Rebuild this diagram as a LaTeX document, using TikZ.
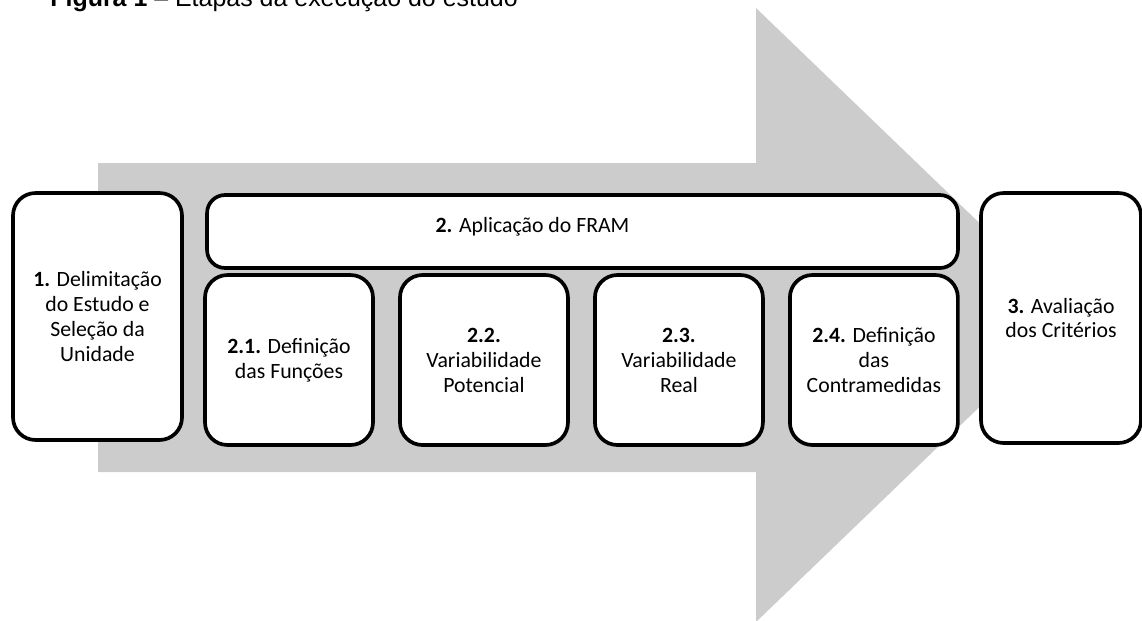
\documentclass[tikz,border=0pt]{standalone}
\usepackage{fontspec}
\setmainfont{Carlito}
\newfontfamily\titlefont{Liberation Sans}
\definecolor{arrowgray}{RGB}{204,204,204}

\begin{document}
\begin{tikzpicture}[x=0.02cm, y=-0.02cm, node distance={3.9cm}, auto=center]
                \tikzstyle{stage} = [draw, line width=2.1pt, rounded corners=0.45cm, fill=white, align=center, font=\fontsize{12.4}{14.2}\selectfont]
                \tikzstyle{sub} = [stage, minimum width=3.36cm, minimum height=3.4cm]

                \useasboundingbox (0,0) rectangle (1142,620);

                % Caption (cut off at the top)
                \node[anchor=base west, inner sep=0pt, font=\titlefont\fontsize{14.2}{17}\selectfont] (title) at (50,6) {\textbf{Figura 1} – Etapas da execução do estudo};

                % Big gray arrow behind the stages
                \fill[arrowgray] (98,163) -- (756,163) -- (756,8) -- (1075,315) -- (756,622) -- (756,472) -- (98,472) -- cycle;

                % Outer stages
                \node[stage, minimum width=3.38cm, minimum height=4.94cm] (s1) at (97.5,316.5) {\textbf{1.} Delimitação\\do Estudo e\\Seleção da\\Unidade};
                \node[stage, minimum width=3.2cm, minimum height=5cm] (s3) at (1061,318) {\textbf{3.} Avaliação\\dos Critérios};

                % FRAM stage and its steps
                \node[stage, rounded corners=0.36cm, minimum width=15.02cm, minimum height=1.46cm, label={[xshift=-1cm, yshift=0.1cm, font=\fontsize{12.4}{14.2}\selectfont]center:\textbf{2.} Aplicação do FRAM}] (s2) at (582.5,231.5) {};
                \node[sub] (s21) at (289,360) {\textbf{2.1.} Definição\\das Funções};
                \node[sub] (s22) [right of=s21] {\textbf{2.2.}\\Variabilidade\\Potencial};
                \node[sub] (s23) [right of=s22] {\textbf{2.3.}\\Variabilidade\\Real};
                \node[sub] (s24) [right of=s23] {\textbf{2.4.} Definição\\das\\Contramedidas};
            \end{tikzpicture}
\end{document}
